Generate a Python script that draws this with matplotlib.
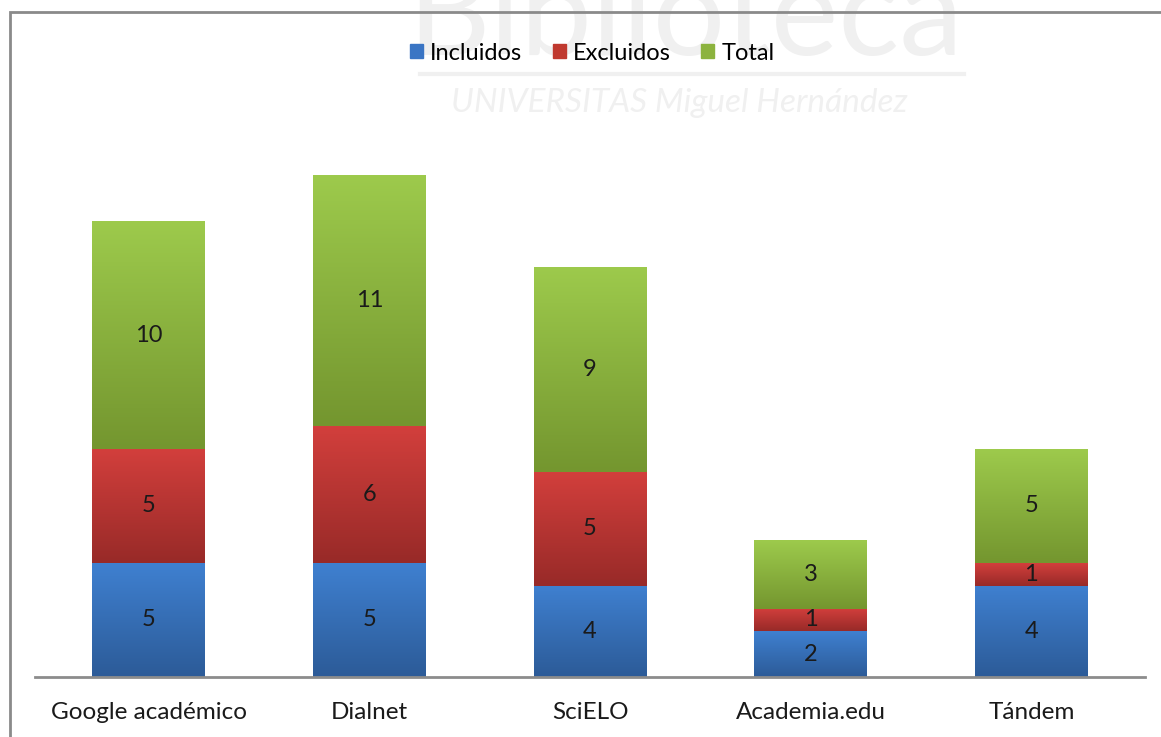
import numpy as np
import matplotlib.pyplot as plt
from matplotlib.colors import LinearSegmentedColormap
from matplotlib.patches import Rectangle
from matplotlib.lines import Line2D

categorias = ["Google académico", "Dialnet", "SciELO", "Academia.edu", "Tándem"]
incluidos = [5, 5, 4, 2, 4]
excluidos = [5, 6, 5, 1, 1]
total = [10, 11, 9, 3, 5]

series = ["Incluidos", "Excluidos", "Total"]
# (top, bottom) gradient colours
grad = {
    "Incluidos": ("#3f80d0", "#2c5b98"),
    "Excluidos": ("#d23f3c", "#982a28"),
    "Total": ("#9dca4c", "#74962f"),
}
legend_col = {"Incluidos": "#3a75c4", "Excluidos": "#c0392f", "Total": "#8cb33e"}

plt.rcParams['font.family'] = ['Lato', 'DejaVu Sans']

fig = plt.figure(figsize=(11.61, 7.37), dpi=100)

# faint watermark behind the chart
fig.text(0.59, 0.895, "Biblioteca", fontsize=92, color="#f0f0f0", ha="center", va="bottom", zorder=0)
fig.add_artist(Line2D([0.362, 0.83], [0.9, 0.9], color="#f0f0f0", lw=3, zorder=0))
fig.text(0.585, 0.86, "UNIVERSITAS Miguel Hernández", fontsize=24, color="#f0f0f0",
         ha="center", va="center", fontstyle="italic", zorder=0)

# outer chart frame (cropped at right/bottom)
fig.add_artist(Rectangle((10 / 1161, -0.1), 1.2, 0.1 + (737 - 12) / 737, transform=fig.transFigure,
                         fill=False, ec="#8a8a8a", lw=2, zorder=1))

ax = fig.add_axes([35 / 1161, 60 / 737, (1145 - 35) / 1161, (677 - 12) / 737])
ax.patch.set_alpha(0)
x = np.arange(len(categorias))
w = 0.51
ymax = (677 - 12) / 22.8

bottom = np.zeros(len(categorias))
for name, vals in zip(series, [incluidos, excluidos, total]):
    top_c, bot_c = grad[name]
    cmap = LinearSegmentedColormap.from_list(name, [bot_c, top_c])
    bars = ax.bar(x, vals, w, bottom=bottom, color="none", edgecolor="none", zorder=2)
    for b, v, b0 in zip(bars, vals, bottom):
        img = ax.imshow(np.linspace(0, 1, 100).reshape(-1, 1), cmap=cmap, origin="lower", aspect="auto",
                        extent=[b.get_x(), b.get_x() + w, b0, b0 + v], zorder=2)
        img.set_clip_path(b)
        ax.text(b.get_x() + w / 2, b0 + v / 2, str(v), ha="center", va="center",
                fontsize=17, color="#1a1a1a", zorder=3)
    bottom = bottom + np.array(vals)
ax.set_xlim(-0.515, 4.515)
ax.set_ylim(0, ymax)

for s in ["top", "right", "left"]:
    ax.spines[s].set_visible(False)
ax.spines["bottom"].set_color("#8c8c8c")
ax.spines["bottom"].set_linewidth(2)
ax.set_yticks([])
ax.set_xticks(x)
ax.set_xticklabels(categorias, fontsize=17.5, color="#1a1a1a")
ax.tick_params(axis="x", length=0, pad=18)

handles = [Rectangle((0, 0), 1, 1, color=legend_col[s]) for s in series]
fig.legend(handles, series, loc="center", bbox_to_anchor=(0.51, 0.928), ncol=3, frameon=False,
           fontsize=17, handlelength=0.55, handleheight=0.55, handletextpad=0.3, columnspacing=1.3)

fig.savefig("out.png", dpi=100, facecolor="white")
